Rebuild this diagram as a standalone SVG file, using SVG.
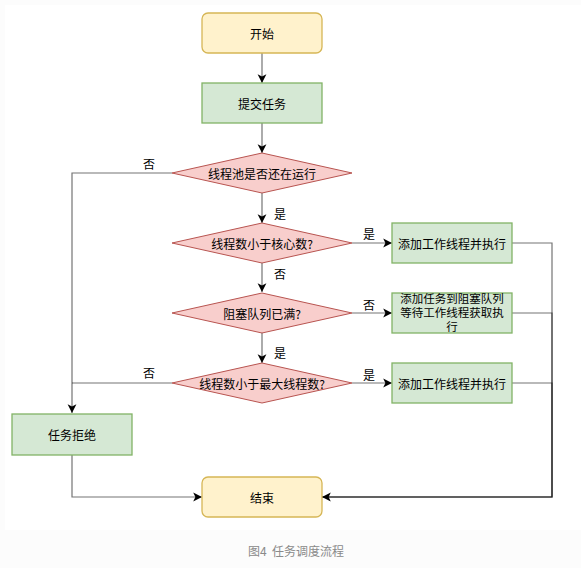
<svg xmlns="http://www.w3.org/2000/svg" width="581" height="568" viewBox="0 0 581 568">
<style>
text{font-family:"Noto Sans CJK SC","Liberation Sans",sans-serif;font-size:12px;fill:#000;text-anchor:middle;dominant-baseline:central}
.term{fill:#fff2cc;stroke:#d6b656;stroke-width:1.3}
.proc{fill:#d5e8d4;stroke:#82b366;stroke-width:1.3}
.dec{fill:#f8cecc;stroke:#b85450;stroke-width:1}
.e{fill:none;stroke:#000;stroke-width:1.2;stroke-opacity:0.55}
.ea{marker-end:url(#arr)}
.lbl{font-size:12px}
.tight{font-size:11.5px}
.cap{fill:#8a8a8a;font-size:12px}
</style>
<defs>
<marker id="arr" markerUnits="userSpaceOnUse" markerWidth="11" markerHeight="11" viewBox="0 0 10 10" refX="9" refY="5" orient="auto">
<path d="M1,1 L9,5 L1,9 L3,5 z" fill="#000"/>
</marker>
</defs>
<rect x="0" y="0" width="581" height="568" fill="#fcfcfc"/>
<rect x="5" y="5" width="576" height="525" fill="#ffffff"/>
<g id="connectors">
<path class="e ea" d="M262,53 V83"/>
<path class="e ea" d="M262,123 V153"/>
<path class="e ea" d="M262,193 V223"/>
<path class="e ea" d="M262,263 V292"/>
<path class="e ea" d="M262,332 V363"/>
<path class="e ea" d="M352,243 H392"/>
<path class="e ea" d="M352,313 H392"/>
<path class="e ea" d="M352,383 H392"/>
<path class="e ea" d="M172,173 H72 V413"/>
<path class="e" d="M172,383 H72"/>
<path class="e ea" d="M72,455 V497 H202"/>
<path class="e" d="M512,243 H552 V497 H322"/>
<path class="e" d="M512,313 H552 V497 H322"/>
<path class="e ea" d="M512,383 H552 V497 H322"/>
<text class="lbl" x="149" y="163">否</text>
<text class="lbl" x="280" y="213">是</text>
<text class="lbl" x="369" y="233">是</text>
<text class="lbl" x="280" y="273">否</text>
<text class="lbl" x="369" y="304">否</text>
<text class="lbl" x="280" y="352">是</text>
<text class="lbl" x="369" y="374">是</text>
<text class="lbl" x="149" y="372">否</text>
</g>
<g id="start"><rect class="term" x="202" y="13" width="120" height="40" rx="6"/><text x="262" y="33">开始</text></g>
<g id="submit"><rect class="proc" x="202" y="83" width="120" height="40"/><text x="262" y="103">提交任务</text></g>
<g id="d1"><path class="dec" d="M172,173 L262,153 L352,173 L262,193 z"/><text x="262" y="173">线程池是否还在运行</text></g>
<g id="d2"><path class="dec" d="M172,243 L262,223 L352,243 L262,263 z"/><text x="262" y="243">线程数小于核心数?</text></g>
<g id="d3"><path class="dec" d="M172,313 L262,293 L352,313 L262,333 z"/><text x="262" y="313">阻塞队列已满?</text></g>
<g id="d4"><path class="dec" d="M172,383 L262,363 L352,383 L262,403 z"/><text x="262" y="383">线程数小于最大线程数?</text></g>
<g id="add1"><rect class="proc" x="392" y="223" width="120" height="40"/><text x="452" y="243">添加工作线程并执行</text></g>
<g id="queue"><rect class="proc" x="392" y="293" width="120" height="40"/><text class="tight" x="452" y="298">添加任务到阻塞队列</text><text class="tight" x="452" y="312">等待工作线程获取执</text><text class="tight" x="452" y="326">行</text></g>
<g id="add2"><rect class="proc" x="392" y="363" width="120" height="40"/><text x="452" y="383">添加工作线程并执行</text></g>
<g id="reject"><rect class="proc" x="12" y="414" width="120" height="41"/><text x="72" y="434">任务拒绝</text></g>
<g id="end"><rect class="term" x="202" y="477" width="120" height="40" rx="6"/><text x="262" y="497">结束</text></g>
<text class="cap" x="296" y="550" xml:space="preserve">图4  任务调度流程</text>
</svg>
